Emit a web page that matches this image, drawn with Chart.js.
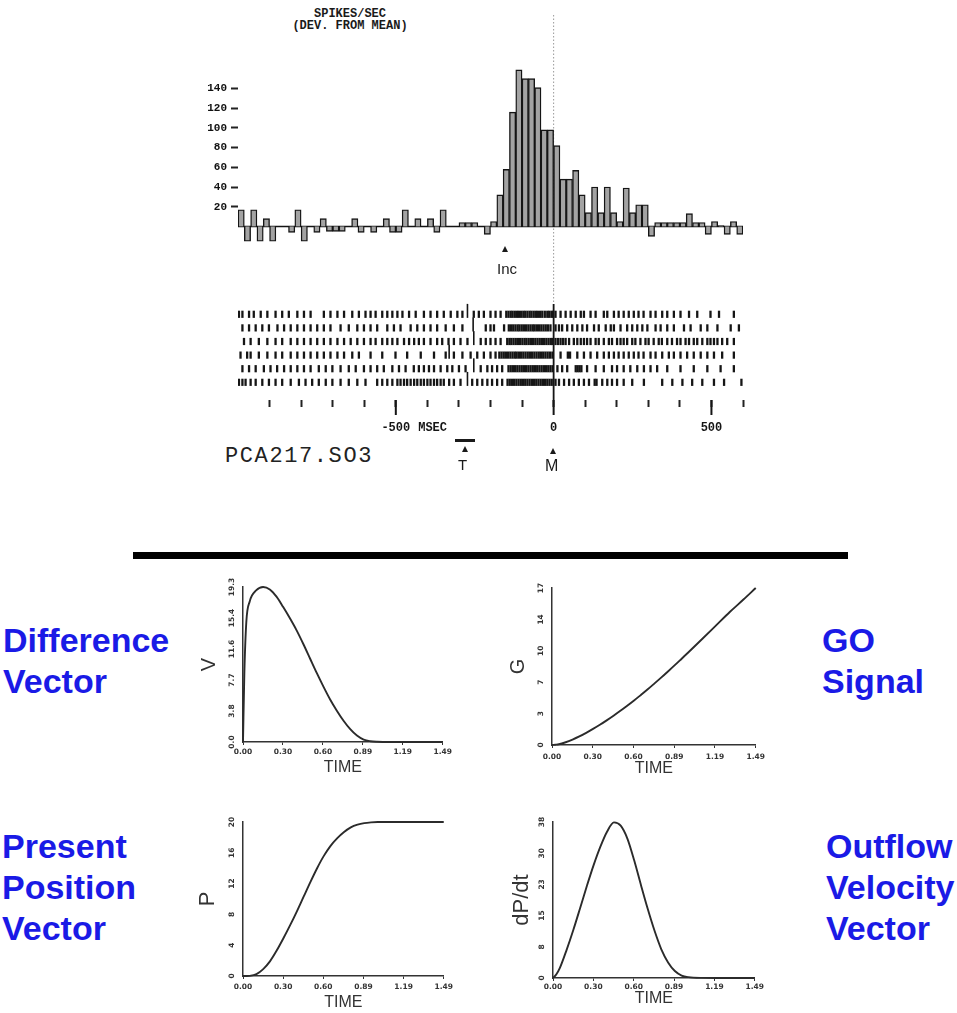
<!DOCTYPE html>
<html>
<head>
<meta charset="utf-8">
<script src="https://cdn.jsdelivr.net/npm/chart.js@4.4.1/dist/chart.umd.min.js"></script>
<style>
body { margin: 0; background: #fff; }
#page { position: relative; width: 957px; height: 1013px; overflow: hidden; background: #fff; }
canvas { position: absolute; }
.txt { position: absolute; white-space: pre; color: #1a1a1a; }
.blue { position: absolute; white-space: pre; font: bold 34px 'Liberation Sans', Arial, sans-serif; line-height: 41px; color: #1a1ae6; }
.tri { position: absolute; width: 0; height: 0; border-left: 3px solid transparent; border-right: 3px solid transparent; border-bottom: 6px solid #1a1a1a; }
</style>
</head>
<body>
<div id="page">
  <div class="txt" style="left:280px;top:8px;width:140px;text-align:center;font:bold 12px 'Liberation Mono';line-height:12px;">SPIKES/SEC
(DEV. FROM MEAN)</div>

  <canvas id="hist" width="570" height="290" style="left:190px;top:0px"></canvas>
  <canvas id="raster" width="570" height="150" style="left:190px;top:290px"></canvas>

  <div class="tri" style="left:502px;top:246px"></div>
  <div class="txt" style="left:497px;top:260px;font:15px 'Liberation Sans';">Inc</div>

  <div class="txt" style="left:225px;top:444px;font:22px 'Liberation Mono';letter-spacing:1.6px;color:#222;">PCA217.SO3</div>

  <div style="position:absolute;left:455px;top:439px;width:20px;height:3px;background:#1a1a1a"></div>
  <div class="tri" style="left:462px;top:446px"></div>
  <div class="txt" style="left:458px;top:456px;font:15px 'Liberation Sans';">T</div>
  <div class="tri" style="left:550px;top:448px"></div>
  <div class="txt" style="left:545px;top:457px;font:16px 'Liberation Sans';">M</div>

  <div style="position:absolute;left:133px;top:552px;width:715px;height:7px;background:#000"></div>

  <div class="blue" style="left:3px;top:620px;">Difference
Vector</div>
  <div class="blue" style="left:822px;top:620px;">GO
Signal</div>
  <div class="blue" style="left:2px;top:826px;">Present
Position
Vector</div>
  <div class="blue" style="left:826px;top:826px;">Outflow
Velocity
Vector</div>

  <canvas id="plotV" width="260" height="212" style="left:195px;top:568px"></canvas>
  <canvas id="plotG" width="270" height="213" style="left:500px;top:572px"></canvas>
  <canvas id="plotP" width="262" height="209" style="left:195px;top:804px"></canvas>
  <canvas id="plotDP" width="266" height="209" style="left:500px;top:804px"></canvas>
</div>

<script>
// ---- histogram: spikes/sec (deviation from mean), 20 ms bins from -1000 to +600 ms
const binStart = -1000;
const binWidth = 20;
const spikeRate = [
  17, -15, 17, -15, 8, -15, 0, 0, -6, 17,
  -15, 0, -6, 8, -5, -5, -5, 0, 8, -6,
  0, -6, 0, 8, -6, -6, 17, 0, 8, 0,
  8, -6, 17, 0, 0, 4, 4, 4, 0, -8,
  5, 32, 58, 116, 159, 150, 150, 141, 98, 98,
  82, 48, 48, 57, 32, 14, 40, 14, 40, 14,
  5, 39, 14, 22, 22, -10, 4, 4, 4, 4,
  4, 13, 4, 4, -8, 5, 1, -8, 5, -8
];
const histTicks = [20, 40, 60, 80, 100, 120, 140];

// ---- raster: spike times (ms) of six trials, aligned on movement onset
const trial1 = [-997,-986,-965,-950,-928,-907,-881,-860,-839,-812,-791,-770,-728,-707,-685,-664,-638,-617,-596,-580,-564,-543,-527,-511,-495,-479,-458,-437,-411,-390,-369,-348,-326,-305,-289,-253,-237,-221,-200,-184,-168,-150,-143,-136,-130,-123,-116,-110,-103,-96,-90,-83,-76,-70,-63,-56,-50,-43,-36,-28,-20,-14,-7,-2,6,22,38,54,70,86,96,117,133,159,170,191,206,222,238,254,269,285,307,323,344,360,381,402,429,455,497,524,571];
const trial2 = [-986,-965,-944,-923,-902,-875,-854,-833,-812,-791,-770,-749,-728,-707,-675,-649,-622,-601,-580,-559,-527,-506,-485,-453,-432,-411,-390,-369,-342,-316,-289,-215,-200,-189,-157,-142,-135,-128,-121,-114,-108,-101,-94,-87,-80,-73,-66,-60,-53,-46,-39,-32,-25,-18,-10,6,17,27,43,59,75,91,106,128,143,165,181,191,212,233,249,265,281,297,323,339,360,381,413,434,466,487,519,561,587];
const trial3 = [-981,-960,-934,-907,-881,-860,-833,-812,-791,-770,-749,-728,-707,-685,-664,-643,-622,-601,-580,-564,-543,-527,-511,-495,-474,-458,-442,-427,-411,-390,-369,-353,-333,-316,-295,-273,-231,-215,-200,-184,-168,-147,-140,-134,-127,-120,-113,-106,-99,-92,-86,-79,-72,-65,-58,-51,-44,-37,-30,-23,-16,-9,-4,6,14,22,30,38,49,64,75,86,96,106,117,133,143,159,175,185,201,212,222,233,249,259,275,291,301,317,333,343,360,375,391,402,418,429,444,455,471,487,497,508,519,534,550,571];
const trial4 = [-992,-971,-960,-934,-907,-881,-860,-833,-812,-791,-770,-749,-728,-707,-685,-664,-638,-617,-580,-543,-501,-464,-421,-379,-342,-316,-289,-263,-242,-221,-200,-184,-172,-165,-158,-151,-144,-137,-130,-123,-117,-110,-103,-96,-89,-82,-75,-68,-61,-54,-47,-40,-33,-26,-19,-12,-4,22,45,52,75,96,117,138,159,175,191,206,222,238,254,269,285,307,323,344,365,381,402,423,444,466,487,508,534,571];
const trial5 = [-986,-965,-944,-918,-897,-876,-854,-833,-812,-791,-770,-744,-722,-701,-675,-649,-627,-601,-580,-559,-538,-511,-490,-469,-443,-427,-411,-395,-379,-358,-337,-321,-300,-279,-231,-210,-195,-179,-163,-143,-136,-129,-122,-115,-108,-101,-94,-87,-80,-73,-66,-59,-52,-45,-38,-31,-24,-17,-10,-3,12,27,43,70,76,82,88,106,133,159,185,201,222,243,265,286,307,328,360,402,444,487,529,571];
const trial6 = [-997,-986,-976,-960,-944,-923,-902,-881,-860,-833,-807,-786,-765,-744,-722,-701,-675,-649,-622,-596,-559,-543,-527,-511,-495,-485,-474,-464,-453,-442,-432,-421,-411,-400,-390,-379,-369,-358,-348,-331,-316,-295,-258,-242,-226,-210,-195,-179,-163,-146,-139,-132,-125,-118,-111,-104,-97,-90,-83,-76,-69,-62,-55,-48,-41,-34,-27,-20,-13,-6,6,17,33,49,64,80,96,112,130,136,154,170,185,201,222,249,286,344,376,408,439,471,508,540,595];
const targetMarks = [-273, -255, -253, -331, -253, -273];
const rasterTicks = [-900, -800, -700, -600, -500, -400, -300, -200, -100, 0, 100, 200, 300, 400, 500, 600];
const majorTicks = [-500, 0, 500];
const majorLabels = ['-500', '0', '500'];
const rasterUnit = 'MSEC';

// ---- model curves (VITE), sampled in seconds
const timeSec = [0, 0.01, 0.025, 0.05, 0.1, 0.15, 0.2, 0.25, 0.3, 0.35, 0.4, 0.45, 0.5, 0.55, 0.6, 0.65, 0.7, 0.75, 0.8, 0.85, 0.9, 0.95, 1.0, 1.1, 1.2, 1.3, 1.4, 1.49];
const vValues = [0, 8.5, 15.0, 17.5, 18.9, 19.3, 19.0, 18.1, 16.8, 15.4, 13.9, 12.2, 10.4, 8.6, 6.9, 5.3, 3.9, 2.65, 1.6, 0.8, 0.3, 0.1, 0.03, 0, 0, 0, 0, 0];
const gValues = [0, 0.01, 0.03, 0.08, 0.3, 0.59, 0.93, 1.32, 1.74, 2.19, 2.67, 3.17, 3.7, 4.25, 4.82, 5.42, 6.03, 6.67, 7.32, 7.99, 8.67, 9.37, 10.07, 11.5, 12.95, 14.4, 15.75, 17.0];
const pValues = [0, 0, 0, 0.02, 0.25, 0.9, 1.9, 3.3, 4.9, 6.6, 8.4, 10.3, 12.2, 14.0, 15.6, 16.9, 17.9, 18.7, 19.3, 19.65, 19.85, 19.95, 20, 20, 20, 20, 20, 20];
const dpValues = [0, 0.3, 0.9, 2.4, 6.8, 11.7, 17.0, 22.4, 27.5, 32.0, 35.7, 37.9, 37.1, 33.9, 28.6, 22.6, 16.8, 11.5, 7.0, 3.8, 1.7, 0.6, 0.2, 0.02, 0, 0, 0, 0];
const timeMax = 1.49;
const timeTickLabels = ['0.00', '0.30', '0.60', '0.89', '1.19', '1.49'];
const vTickLabels = ['0.0', '3.8', '7.7', '11.6', '15.4', '19.3'];
const gTickLabels = ['0', '3', '7', '10', '14', '17'];
const pTickLabels = ['0', '4', '8', '12', '16', '20'];
const dpTickLabels = ['0', '8', '15', '23', '30', '38'];

Chart.defaults.animation = false;
Chart.defaults.responsive = false;
Chart.defaults.devicePixelRatio = 1;
Chart.defaults.font.family = "'DejaVu Sans', sans-serif";
Chart.defaults.plugins.legend.display = false;
Chart.defaults.plugins.tooltip.enabled = false;

function strokeLine(ctx, x1, y1, x2, y2) {
    ctx.beginPath();
    ctx.moveTo(x1, y1);
    ctx.lineTo(x2, y2);
    ctx.stroke();
}

// zero line + dotted line at movement onset
const histLines = {
    id: 'histLines',
    beforeDatasetsDraw(chart) {
        const { ctx, chartArea: a, scales: { y } } = chart;
        const span = binWidth * spikeRate.length;
        const x0 = a.left + (0 - binStart) / span * (a.right - a.left);
        ctx.save();
        ctx.strokeStyle = '#999';
        ctx.lineWidth = 1;
        ctx.setLineDash([1.5, 2]);
        strokeLine(ctx, x0, 15, x0, chart.height);
        ctx.setLineDash([]);
        ctx.strokeStyle = '#151515';
        ctx.lineWidth = 1.5;
        const yz = y.getPixelForValue(0);
        strokeLine(ctx, a.left, yz, a.right, yz);
        ctx.restore();
    }
};

new Chart(document.getElementById('hist'), {
    type: 'bar',
    data: {
        labels: spikeRate.map((_, i) => binStart + i * binWidth),
        datasets: [{
            data: spikeRate,
            backgroundColor: '#a3a3a3',
            borderColor: '#151515',
            borderWidth: 1.4,
            barPercentage: 1,
            categoryPercentage: 1
        }]
    },
    options: {
        layout: { padding: { top: 59, right: 17, bottom: 34, left: 0 } },
        scales: {
            x: { display: false },
            y: {
                min: -30,
                max: 170,
                afterFit: s => { s.width = 48; },
                afterBuildTicks: s => { s.ticks = histTicks.map(v => ({ value: v })); },
                border: { display: false },
                grid: { drawOnChartArea: false, drawTicks: true, tickLength: 7, tickWidth: 2, tickColor: '#222' },
                ticks: { padding: 4, color: '#111', font: { family: "'Liberation Mono', monospace", size: 11, weight: 'bold' } }
            }
        }
    },
    plugins: [histLines]
});

// raster
const trials = [trial1, trial2, trial3, trial4, trial5, trial6];
const rasterSets = trials.map((spikes, k) => ({
    data: spikes.map(t => ({ x: t, y: trials.length - k })),
    pointStyle: 'line',
    rotation: 90,
    radius: 3.6,
    borderWidth: 2.3,
    borderColor: '#151515'
}));
rasterSets.push({
    data: targetMarks.map((t, k) => ({ x: t, y: trials.length - k + 0.25 })),
    pointStyle: 'line',
    rotation: 90,
    radius: 7,
    borderWidth: 1.6,
    borderColor: '#151515'
});

const rasterMarks = {
    id: 'rasterMarks',
    afterDraw(chart) {
        const { ctx, chartArea: a, scales: { x } } = chart;
        const x0 = x.getPixelForValue(0);
        ctx.save();
        ctx.strokeStyle = '#999';
        ctx.lineWidth = 1;
        ctx.setLineDash([1.5, 2]);
        strokeLine(ctx, x0, 0, x0, a.top + 4);
        ctx.setLineDash([]);
        ctx.strokeStyle = '#151515';
        ctx.lineWidth = 1.8;
        strokeLine(ctx, x0, a.top + 4, x0, a.bottom);
        ctx.lineWidth = 2;
        majorTicks.forEach(v => {
            const px = x.getPixelForValue(v);
            strokeLine(ctx, px, a.bottom, px, a.bottom + 15);
        });
        ctx.font = "bold 12px 'Liberation Mono', monospace";
        ctx.fillStyle = '#151515';
        ctx.textAlign = 'center';
        ctx.textBaseline = 'middle';
        majorTicks.forEach((v, i) => ctx.fillText(majorLabels[i], x.getPixelForValue(v), a.bottom + 28));
        const w = ctx.measureText(majorLabels[0]).width;
        ctx.textAlign = 'left';
        ctx.fillText(rasterUnit, x.getPixelForValue(majorTicks[0]) + w / 2 + 8, a.bottom + 28);
        ctx.restore();
    }
};

new Chart(document.getElementById('raster'), {
    type: 'scatter',
    data: { datasets: rasterSets },
    options: {
        layout: { padding: { top: 10, right: 17, bottom: 0, left: 48 } },
        scales: {
            x: {
                type: 'linear',
                min: binStart,
                max: binStart + binWidth * spikeRate.length,
                afterBuildTicks: s => { s.ticks = rasterTicks.map(v => ({ value: v })); },
                afterFit: s => { s.height = 40; },
                border: { display: false },
                grid: { drawOnChartArea: false, drawTicks: true, tickLength: 7, tickWidth: 2, tickColor: '#222' },
                ticks: { display: false }
            },
            y: { display: false, min: -0.3, max: 7.05 }
        }
    },
    plugins: [rasterMarks]
});

// rotated y tick labels of the model plots
const yLabelPlugin = {
    id: 'yLabels',
    afterDraw(chart, args, opts) {
        const { ctx, chartArea: a, scales: { y } } = chart;
        const n = opts.labels.length;
        ctx.save();
        ctx.font = "bold 7.5px 'DejaVu Sans'";
        ctx.fillStyle = '#333';
        ctx.textAlign = 'center';
        ctx.textBaseline = 'middle';
        opts.labels.forEach((lab, i) => {
            const py = y.getPixelForValue(y.min + i * (y.max - y.min) / (n - 1));
            ctx.save();
            ctx.translate(a.left - 11, py);
            ctx.rotate(-Math.PI / 2);
            ctx.fillText(lab, 0, 0);
            ctx.restore();
        });
        ctx.restore();
    }
};

function modelPlot(id, title, values, yMax, yLabels, box) {
    new Chart(document.getElementById(id), {
        type: 'line',
        data: {
            datasets: [{
                data: timeSec.map((t, i) => ({ x: t, y: values[i] })),
                borderColor: '#2b2b2b',
                borderWidth: 1.9,
                pointRadius: 0,
                cubicInterpolationMode: 'monotone',
                clip: 6
            }]
        },
        options: {
            layout: { padding: { top: box.top, right: box.right, bottom: 0, left: 0 } },
            scales: {
                x: {
                    type: 'linear',
                    min: 0,
                    max: timeMax,
                    afterBuildTicks: s => {
                        s.ticks = timeTickLabels.map((_, i) => ({ value: i * timeMax / (timeTickLabels.length - 1) }));
                    },
                    afterFit: s => { s.height = box.xh; },
                    border: { color: '#333', width: 1.5 },
                    grid: { drawOnChartArea: false, drawTicks: true, tickLength: 3, color: '#333' },
                    ticks: {
                        callback: (v, i) => timeTickLabels[i],
                        padding: box.tp,
                        maxRotation: 0,
                        autoSkip: false,
                        color: '#333',
                        font: { size: 7.5, weight: 'bold' }
                    },
                    title: {
                        display: true, text: 'TIME', color: '#333',
                        font: { family: "'Liberation Sans', sans-serif", size: 16 },
                        padding: { top: 0, bottom: box.xt }
                    }
                },
                y: {
                    min: 0,
                    max: yMax,
                    afterFit: s => { s.width = box.yw; },
                    border: { color: '#333', width: 1.5 },
                    grid: { display: false },
                    ticks: { display: false },
                    title: {
                        display: true, text: title, color: '#333',
                        font: { family: "'Liberation Sans', sans-serif", size: box.fs },
                        padding: { top: box.yt, bottom: 0 }
                    }
                }
            },
            plugins: { yLabels: { labels: yLabels } }
        },
        plugins: [yLabelPlugin]
    });
}

modelPlot('plotV', 'V', vValues, 19.3, vTickLabels, { top: 19, right: 7, xh: 38, yw: 48, tp: 3, xt: 3, yt: 2, fs: 20 });
modelPlot('plotG', 'G', gValues, 17, gTickLabels, { top: 16, right: 10, xh: 40, yw: 52, tp: 5, xt: 7, yt: 6, fs: 20 });
modelPlot('plotP', 'P', pValues, 20, pTickLabels, { top: 18, right: 7, xh: 37, yw: 48, tp: 4, xt: 1, yt: 0, fs: 22 });
modelPlot('plotDP', 'dP/dt', dpValues, 38, dpTickLabels, { top: 18, right: 8, xh: 35, yw: 53, tp: 2, xt: 5, yt: 9, fs: 22 });
</script>
</body>
</html>
